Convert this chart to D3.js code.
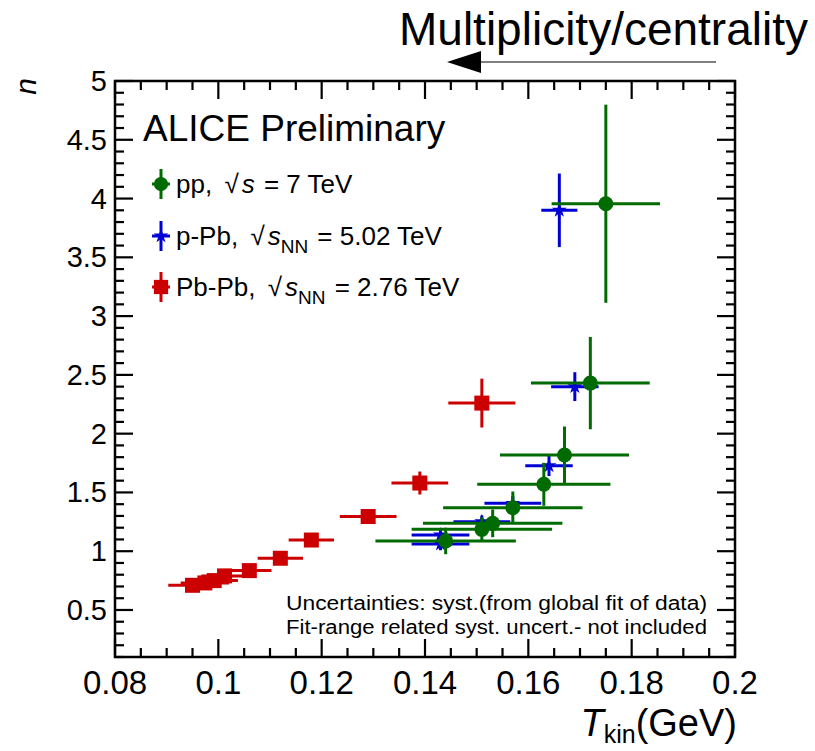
<!DOCTYPE html>
<html lang="en">
<head>
<meta charset="utf-8">
<title>n vs Tkin</title>
<script src="https://cdn.jsdelivr.net/npm/d3@7"></script>
<style>
  body { margin: 0; background: #fff; }
  svg text { font-family: "Liberation Sans", Arial, sans-serif; fill: #000; }
</style>
</head>
<body>
<div id="chart"></div>
<script>
// Pb-Pb, sqrt(sNN) = 2.76 TeV
var pbpbT    = [0.095, 0.0974, 0.0992, 0.1012, 0.106, 0.112, 0.118, 0.129, 0.139, 0.151];
var pbpbN    = [0.71, 0.73, 0.75, 0.79, 0.835, 0.94, 1.095, 1.295, 1.58, 2.26];
var pbpbTerr = [0.0044, 0.0044, 0.0043, 0.0042, 0.0040, 0.0041, 0.0041, 0.0052, 0.0052, 0.0062];
var pbpbNerr = [0.02, 0.02, 0.02, 0.025, 0.03, 0.03, 0.035, 0.035, 0.085, 0.195];

// p-Pb, sqrt(sNN) = 5.02 TeV
var ppbT    = [0.143, 0.143, 0.151, 0.157, 0.164, 0.169, 0.166];
var ppbN    = [1.061, 1.138, 1.251, 1.407, 1.727, 2.40, 3.90];
var ppbTerr = [0.0053, 0.0053, 0.0052, 0.0052, 0.0043, 0.0043, 0.0032];
var ppbNerr = [0.04, 0.04, 0.04, 0.05, 0.075, 0.11, 0.30];

// pp, sqrt(s) = 7 TeV
var ppT    = [0.144, 0.151, 0.1531, 0.157, 0.163, 0.167, 0.172, 0.175];
var ppN    = [1.087, 1.186, 1.237, 1.37, 1.569, 1.818, 2.43, 3.956];
var ppTerr = [0.0133, 0.0133, 0.0132, 0.0132, 0.0126, 0.0122, 0.0112, 0.0102];
var ppNerr = [0.1, 0.09, 0.105, 0.125, 0.17, 0.23, 0.38, 0.83];

var xTicks = [0.08, 0.1, 0.12, 0.14, 0.16, 0.18, 0.2];
var yTicks = [0.5, 1, 1.5, 2, 2.5, 3, 3.5, 4, 4.5, 5];

var green = "#006b00", blue = "#0000d4", red = "#cc0000";

function rows(T, N, Te, Ne) {
  return T.map(function(t, i){ return {t: t, n: N[i], te: Te[i], ne: Ne[i]}; });
}
var series = [
  {name: "ppb", color: blue,  marker: "star",   data: rows(ppbT, ppbN, ppbTerr, ppbNerr)},
  {name: "pp",  color: green, marker: "circle", data: rows(ppT, ppN, ppTerr, ppNerr)},
  {name: "pbpb",color: red,   marker: "square", data: rows(pbpbT, pbpbN, pbpbTerr, pbpbNerr)}
];

var W = 815, H = 751;
var padL = 115, padR = 735, padT = 81, padB = 657;

var svg = d3.select("#chart").append("svg")
  .attr("width", W).attr("height", H);

var x = d3.scaleLinear().domain([0.08, 0.2]).range([padL, padR]);
var y = d3.scaleLinear().domain([0.1, 5]).range([padB, padT]);

// minor ticks
var xMinor = d3.range(0, 25).map(function(i){ return +(0.08 + i * 0.005).toFixed(3); });
var yMinor = d3.range(1, 51).map(function(i){ return +(i * 0.1).toFixed(1); });
function isMajorX(d) { return xTicks.some(function(t){ return Math.abs(t - d) < 1e-6; }); }
function isMajorY(d) { return Math.abs(d * 2 - Math.round(d * 2)) < 1e-6; }

var axes = svg.append("g").attr("stroke", "#000").attr("stroke-width", 2.2);

// bottom + top
axes.selectAll(".xb").data(xMinor).enter().append("line")
  .attr("x1", function(d){ return x(d); }).attr("x2", function(d){ return x(d); })
  .attr("y1", padB).attr("y2", function(d){ return padB - (isMajorX(d) ? 18 : 9); });
axes.selectAll(".xt").data(xMinor).enter().append("line")
  .attr("x1", function(d){ return x(d); }).attr("x2", function(d){ return x(d); })
  .attr("y1", padT).attr("y2", function(d){ return padT + (isMajorX(d) ? 18 : 9); });
// left + right
axes.selectAll(".yl").data(yMinor).enter().append("line")
  .attr("y1", function(d){ return y(d); }).attr("y2", function(d){ return y(d); })
  .attr("x1", padL).attr("x2", function(d){ return padL + (isMajorY(d) ? 18 : 9); });
axes.selectAll(".yr").data(yMinor).enter().append("line")
  .attr("y1", function(d){ return y(d); }).attr("y2", function(d){ return y(d); })
  .attr("x1", padR).attr("x2", function(d){ return padR - (isMajorY(d) ? 18 : 9); });

svg.append("rect")
  .attr("x", padL).attr("y", padT).attr("width", padR - padL).attr("height", padB - padT)
  .attr("fill", "none").attr("stroke", "#000").attr("stroke-width", 2.5);

// tick labels
svg.selectAll(".xl").data(xTicks).enter().append("text")
  .attr("x", function(d){ return x(d); }).attr("y", 694)
  .attr("text-anchor", "middle").style("font-size", "33px")
  .text(function(d){ return d3.format("~g")(d); });
svg.selectAll(".ylab").data(yTicks).enter().append("text")
  .attr("x", 107).attr("y", function(d){ return y(d) + 10; })
  .attr("text-anchor", "end").style("font-size", "29px")
  .text(function(d){ return d; });

// axis titles
svg.append("text").attr("transform", "translate(36,78) rotate(-90)")
  .attr("text-anchor", "end").style("font-size", "30px").style("font-style", "italic").text("n");
var xt = svg.append("text").attr("x", 737).attr("y", 736).attr("text-anchor", "end").style("font-size", "38px");
xt.append("tspan").style("font-style", "italic").text("T");
xt.append("tspan").attr("dy", 7).style("font-size", "25px").text("kin");
xt.append("tspan").attr("dy", -7).text("(GeV)");

// top annotation
svg.append("text").attr("x", 808).attr("y", 45).attr("text-anchor", "end")
  .style("font-size", "46px").text("Multiplicity/centrality");
svg.append("line").attr("x1", 716).attr("x2", 470).attr("y1", 62).attr("y2", 62)
  .attr("stroke", "#000").attr("stroke-width", 1.2);
svg.append("path").attr("d", "M447,62 L481,51 L481,73 Z").attr("fill", "#000");

// markers
function drawMarker(g, type, color, cx, cy, s) {
  if (type === "circle") {
    g.append("circle").attr("cx", cx).attr("cy", cy).attr("r", 7.5 * s).attr("fill", color);
  } else if (type === "square") {
    g.append("rect").attr("x", cx - 7.5 * s).attr("y", cy - 7.5 * s)
      .attr("width", 15 * s).attr("height", 15 * s).attr("fill", color);
  } else {
    g.append("path").attr("d", d3.symbol().type(d3.symbolStar).size(70 * s)())
      .attr("transform", "translate(" + cx + "," + cy + ")").attr("fill", color);
  }
}

series.forEach(function(s) {
  var g = svg.append("g");
  s.data.forEach(function(d) {
    g.append("line").attr("x1", x(d.t - d.te)).attr("x2", x(d.t + d.te))
      .attr("y1", y(d.n)).attr("y2", y(d.n))
      .attr("stroke", s.color).attr("stroke-width", 3).attr("stroke-linecap", "square");
    g.append("line").attr("x1", x(d.t)).attr("x2", x(d.t))
      .attr("y1", y(d.n - d.ne)).attr("y2", y(d.n + d.ne))
      .attr("stroke", s.color).attr("stroke-width", 3).attr("stroke-linecap", "square");
  });
  s.data.forEach(function(d) {
    drawMarker(g, s.marker, s.color, x(d.t), y(d.n), 1);
  });
});

// header + legend
svg.append("text").attr("x", 143).attr("y", 141).style("font-size", "37px").text("ALICE Preliminary");

var legend = [
  {color: green, marker: "circle", lab: "pp, ", sub: "", tail: " = 7 TeV", y: 184},
  {color: blue,  marker: "star",   lab: "p-Pb, ", sub: "NN", tail: " = 5.02 TeV", y: 236},
  {color: red,   marker: "square", lab: "Pb-Pb, ", sub: "NN", tail: " = 2.76 TeV", y: 287}
];
legend.forEach(function(l) {
  var g = svg.append("g");
  g.append("line").attr("x1", 161).attr("x2", 161).attr("y1", l.y - 15).attr("y2", l.y + 15)
    .attr("stroke", l.color).attr("stroke-width", 3);
  g.append("line").attr("x1", 152).attr("x2", 170).attr("y1", l.y).attr("y2", l.y)
    .attr("stroke", l.color).attr("stroke-width", 3);
  drawMarker(g, l.marker, l.color, 161, l.y, 0.95);
  var t = g.append("text").attr("x", 176).attr("y", l.y + 9).style("font-size", "26px");
  t.append("tspan").text(l.lab);
  t.append("tspan").attr("dx", 5).text("\u221A");
  t.append("tspan").attr("dx", 3).style("font-style", "italic").text("s");
  if (l.sub) t.append("tspan").attr("dy", 8).style("font-size", "19px").text(l.sub);
  t.append("tspan").attr("dy", l.sub ? -8 : 0).attr("dx", 2).text(l.tail);
});

// uncertainty note
svg.append("text").attr("x", 707).attr("y", 610).attr("text-anchor", "end")
  .style("font-size", "20px").attr("textLength", 421).attr("lengthAdjust", "spacingAndGlyphs")
  .text("Uncertainties: syst.(from global fit of data)");
svg.append("text").attr("x", 707).attr("y", 634).attr("text-anchor", "end")
  .style("font-size", "20px").attr("textLength", 421).attr("lengthAdjust", "spacingAndGlyphs")
  .text("Fit-range related syst. uncert.- not included");
</script>
</body>
</html>
